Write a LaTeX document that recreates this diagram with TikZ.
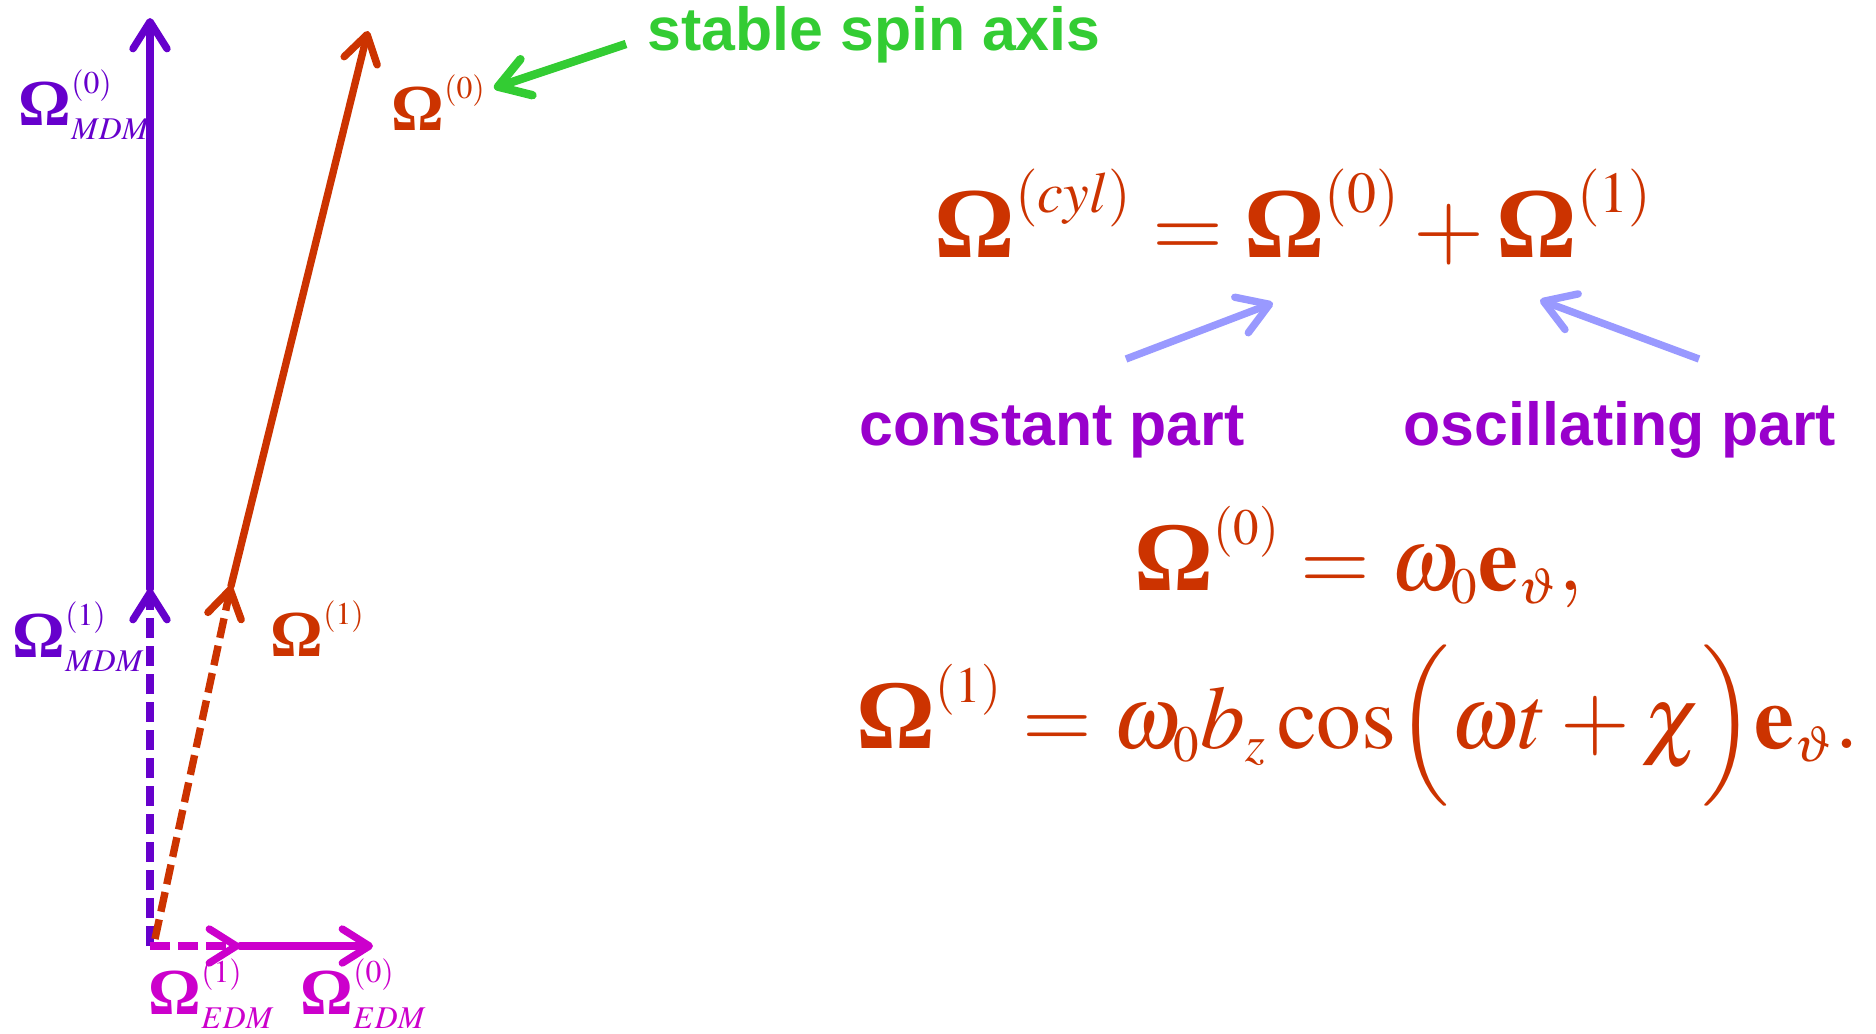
\documentclass[tikz,border=0pt]{standalone}
\usepackage{mathptmx}
\usepackage[no-math]{fontspec}
\setmainfont{Liberation Serif}
\newfontfamily\lblsans{Liberation Sans}
\usetikzlibrary{arrows.meta, positioning}
\definecolor{mdmc}{RGB}{102,0,204}
\definecolor{orc}{RGB}{204,51,0}
\definecolor{edmc}{RGB}{204,0,204}
\definecolor{grc}{RGB}{51,204,51}
\definecolor{bluc}{RGB}{153,153,255}
\definecolor{purc}{RGB}{153,0,204}
\DeclareMathSizes{17}{17}{9}{6.5}
\DeclareMathSizes{26}{26}{16.5}{12}
\DeclareMathSizes{25.5}{25.5}{14.5}{10}
\newcommand{\Om}{\hbox{\bfseries\scalebox{1.1}{Ω}}}
\tikzset{
  vec/.style={line width=2.1pt, line cap=round, -{Straight Barb[round, length=2.7mm, width=3.4mm]}},
  dvec/.style={vec, line cap=butt, dash pattern=on 2mm off 0.8mm},
  hint/.style={line width=2.1pt, -{Straight Barb[round, length=3mm, width=3.8mm]}},
  lbl/.style={inner sep=0pt, anchor=base west, font=\fontsize{17}{20}\selectfont},
  eqn/.style={inner sep=0pt, anchor=base, text=orc},
  note/.style={inner sep=0pt, anchor=base, font=\lblsans\bfseries\fontsize{17.3}{20}\selectfont},
}

\begin{document}
\begin{tikzpicture}
\useasboundingbox (0,0) rectangle (18.76,-10.33);

% vectors
\coordinate (o) at (1.50,-9.46);
\coordinate (oo) at (1.55,-9.39);
\coordinate (m1) at (1.50,-5.89);
\coordinate (m0) at (1.50,-0.18);
\coordinate (r1) at (2.31,-5.86);
\coordinate (r0) at (3.68,-0.31);
\coordinate (e1) at (2.40,-9.46);
\coordinate (e0) at (3.73,-9.46);

\draw[dvec, mdmc] (o) -- (m1);
\draw[vec, mdmc] (m1) -- (m0);
\draw[dvec, orc] (oo) -- (r1);
\draw[vec, orc] (r1) -- (r0);
\draw[dvec, edmc] (o) -- (e1);
\draw[vec, edmc] (e1) -- (e0);

\node[lbl, text=mdmc] (lm0) at (0.18,-1.25) {$\Om^{(0)}_{MDM}$};
\node[lbl, text=orc] (lr0) at (3.91,-1.30) {$\Om^{(0)}$};
\node[lbl, text=mdmc] (lm1) at (0.12,-6.57) {$\Om^{(1)}_{MDM}$};
\node[lbl, text=orc] (lr1) at (2.70,-6.56) {$\Om^{(1)}$};
\node[lbl, text=edmc] (le1) at (1.48,-10.14) {$\Om^{(1)}_{EDM}$};
\node[lbl, text=edmc] (le0) at (3.00,-10.14) {$\Om^{(0)}_{EDM}$};

% stable axis
\node[note, anchor=base west, text=grc] (axis) at (6.47,-0.50) {stable spin axis};
\coordinate (gtail) at (6.26,-0.44);
\coordinate (gtip) at (4.94,-0.88);
\draw[hint, grc, line width=2.4pt] (gtail) -- (gtip);

% equations
\node[eqn, font=\fontsize{26}{30}\selectfont] (eqcyl) at (12.94,-2.57)
  {$\Om^{(cyl)} = \Om^{(0)} + \Om^{(1)}$};
\node[eqn, font=\fontsize{25.5}{30}\selectfont] (eqzero) at (13.59,-5.90)
  {$\Om^{(0)} = \omega_0 \mathbf{e}_{\vartheta},$};
\node[eqn, font=\fontsize{25.5}{30}\selectfont] (eqone) at (13.58,-7.48)
  {$\Om^{(1)} = \omega_0 b_z \cos\Bigl(\omega t + \chi\Bigr)\mathbf{e}_{\vartheta}.$};

\node[note, text=purc] (const) at (10.52,-4.45) {constant part};
\node[note, text=purc] (osc) at (16.20,-4.45) {oscillating part};

\coordinate (ctail) at (11.26,-3.59);
\coordinate (ctip) at (12.73,-3.03);
\coordinate (otail) at (16.99,-3.59);
\coordinate (otip) at (15.40,-3.00);
\draw[hint, bluc] (ctail) -- (ctip);
\draw[hint, bluc] (otail) -- (otip);
\end{tikzpicture}
\end{document}
